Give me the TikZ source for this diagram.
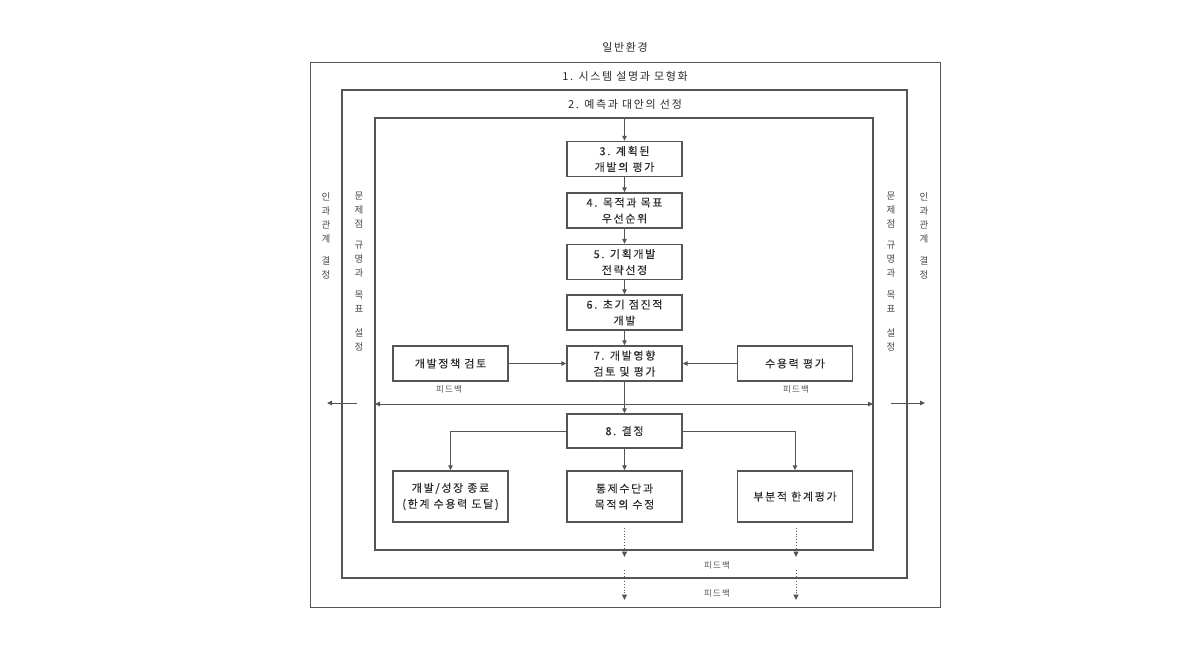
\documentclass[tikz,border=0pt]{standalone}
\usepackage{fontspec}
\setmainfont{Noto Sans CJK KR}
\newfontfamily\krsp[LetterSpace=15]{Noto Sans CJK KR}
\newfontfamily\krbx[LetterSpace=15,FakeBold=0.25]{Noto Sans CJK KR}
\usetikzlibrary{arrows.meta}
\definecolor{ln}{HTML}{555555}
\definecolor{tx}{HTML}{2a2a2a}
\tikzset{
  frame/.style={draw=ln, fill=none, inner sep=0pt},
  box/.style={draw=ln, line width=1.4pt, minimum width=115pt, minimum height=35pt, inner sep=0pt,
    align=center, text=tx, font=\krbx\fontsize{11}{16}\selectfont},
  lbl/.style={text=tx, font=\krsp\fontsize{11}{14}\selectfont, inner sep=0pt},
  small/.style={text=tx!80, font=\krsp\fontsize{8.5}{10}\selectfont, inner sep=0pt},
  vert/.style={text=tx!85, font=\fontsize{9.5}{14}\selectfont, inner sep=0pt, align=center, anchor=north},
  arr/.style={draw=ln, line width=1pt, -{Triangle[length=5pt,width=4.5pt]}},
  darr/.style={draw=ln, line width=0.8pt, dotted, -{Triangle[length=5.5pt,width=5pt]}},
}
\begin{document}
\begin{tikzpicture}[x=1pt,y=-1pt]
\useasboundingbox (0,0) rectangle (1190,645);
% frames
\node[frame, line width=0.8pt, minimum width=630pt, minimum height=545pt] (f1) at (625,334.5) {};
\node[frame, line width=1.6pt, minimum width=565pt, minimum height=488pt] (f2) at (624.5,334) {};
\node[frame, line width=1.6pt, minimum width=498pt, minimum height=432pt] (f3) at (624,334) {};
% titles
\node[lbl] (t0) at (625,47) {일반환경};
\node[lbl] (t1) at (625,76) {1. 시스템 설명과 모형화};
\node[lbl] (t2) at (625,104) {2. 예측과 대안의 선정};
% vertical labels
\node[vert] (vl1) at (326,192) {인\\과\\관\\계\\[8pt]결\\정};
\node[vert] (vl2) at (359,192) {문\\제\\점\\[7pt]규\\명\\과\\[8pt]목\\표\\[10pt]설\\정};
\node[vert] (vr2) at (891,192) {문\\제\\점\\[7pt]규\\명\\과\\[8pt]목\\표\\[10pt]설\\정};
\node[vert] (vr1) at (924,192) {인\\과\\관\\계\\[8pt]결\\정};
% main chain
\node[box] (n3) at (624.5,159) {3. 계획된\\개발의 평가};
\node[box] (n4) at (624.5,210.5) {4. 목적과 목표\\우선순위};
\node[box] (n5) at (624.5,262) {5. 기획개발\\전략선정};
\node[box] (n6) at (624.5,312.5) {6. 초기 점진적\\개발};
\node[box] (n7) at (624.5,363.5) {7. 개발영향\\검토 및 평가};
\node[box] (pol) at (450.5,363.5) {개발정책 검토};
\node[box] (cap) at (795,363.5) {수용력 평가};
\node[box, minimum height=34pt] (n8) at (624.5,431) {8. 결정};
\node[box, minimum height=51pt] (b1) at (450.5,496.5) {개발/성장 종료\\(한계 수용력 도달)};
\node[box, minimum height=51pt] (b2) at (624.5,496.5) {통제수단과\\목적의 수정};
\node[box, minimum height=51pt] (b3) at (795,496.5) {부분적 한계평가};
% feedback labels
\node[small] (fb1) at (449,389) {피드백};
\node[small] (fb2) at (796,389) {피드백};
\node[small] (fb3) at (717,565) {피드백};
\node[small] (fb4) at (717,593) {피드백};
% coordinates
\coordinate (top) at (624.5,118);
\coordinate (hl) at (375,404);
\coordinate (hr) at (873,404);
\coordinate (ol1) at (357,403);
\coordinate (ol2) at (327,403);
\coordinate (or1) at (891,403);
\coordinate (or2) at (925,403);
\coordinate (d1a) at (624.5,528);
\coordinate (d1b) at (624.5,557);
\coordinate (d1c) at (624.5,570);
\coordinate (d1d) at (624.5,600);
\coordinate (d2a) at (796,528);
\coordinate (d2b) at (796,557);
\coordinate (d2c) at (796,570);
\coordinate (d2d) at (796,600);
% arrows
\draw[arr] (top) -- (n3);
\draw[arr] (n3) -- (n4);
\draw[arr] (n4) -- (n5);
\draw[arr] (n5) -- (n6);
\draw[arr] (n6) -- (n7);
\draw[arr] (pol) -- (n7);
\draw[arr] (cap) -- (n7);
\draw[arr] (n7) -- (n8);
\draw[arr, {Triangle[length=5pt,width=4.5pt]}-{Triangle[length=5pt,width=4.5pt]}] (hl) -- (hr);
\draw[arr] (ol1) -- (ol2);
\draw[arr] (or1) -- (or2);
\draw[arr] (n8.west) -| (b1.north);
\draw[arr] (n8) -- (b2);
\draw[arr] (n8.east) -| (b3.north);
\draw[darr] (d1a) -- (d1b);
\draw[darr] (d1c) -- (d1d);
\draw[darr] (d2a) -- (d2b);
\draw[darr] (d2c) -- (d2d);
\end{tikzpicture}
\end{document}
